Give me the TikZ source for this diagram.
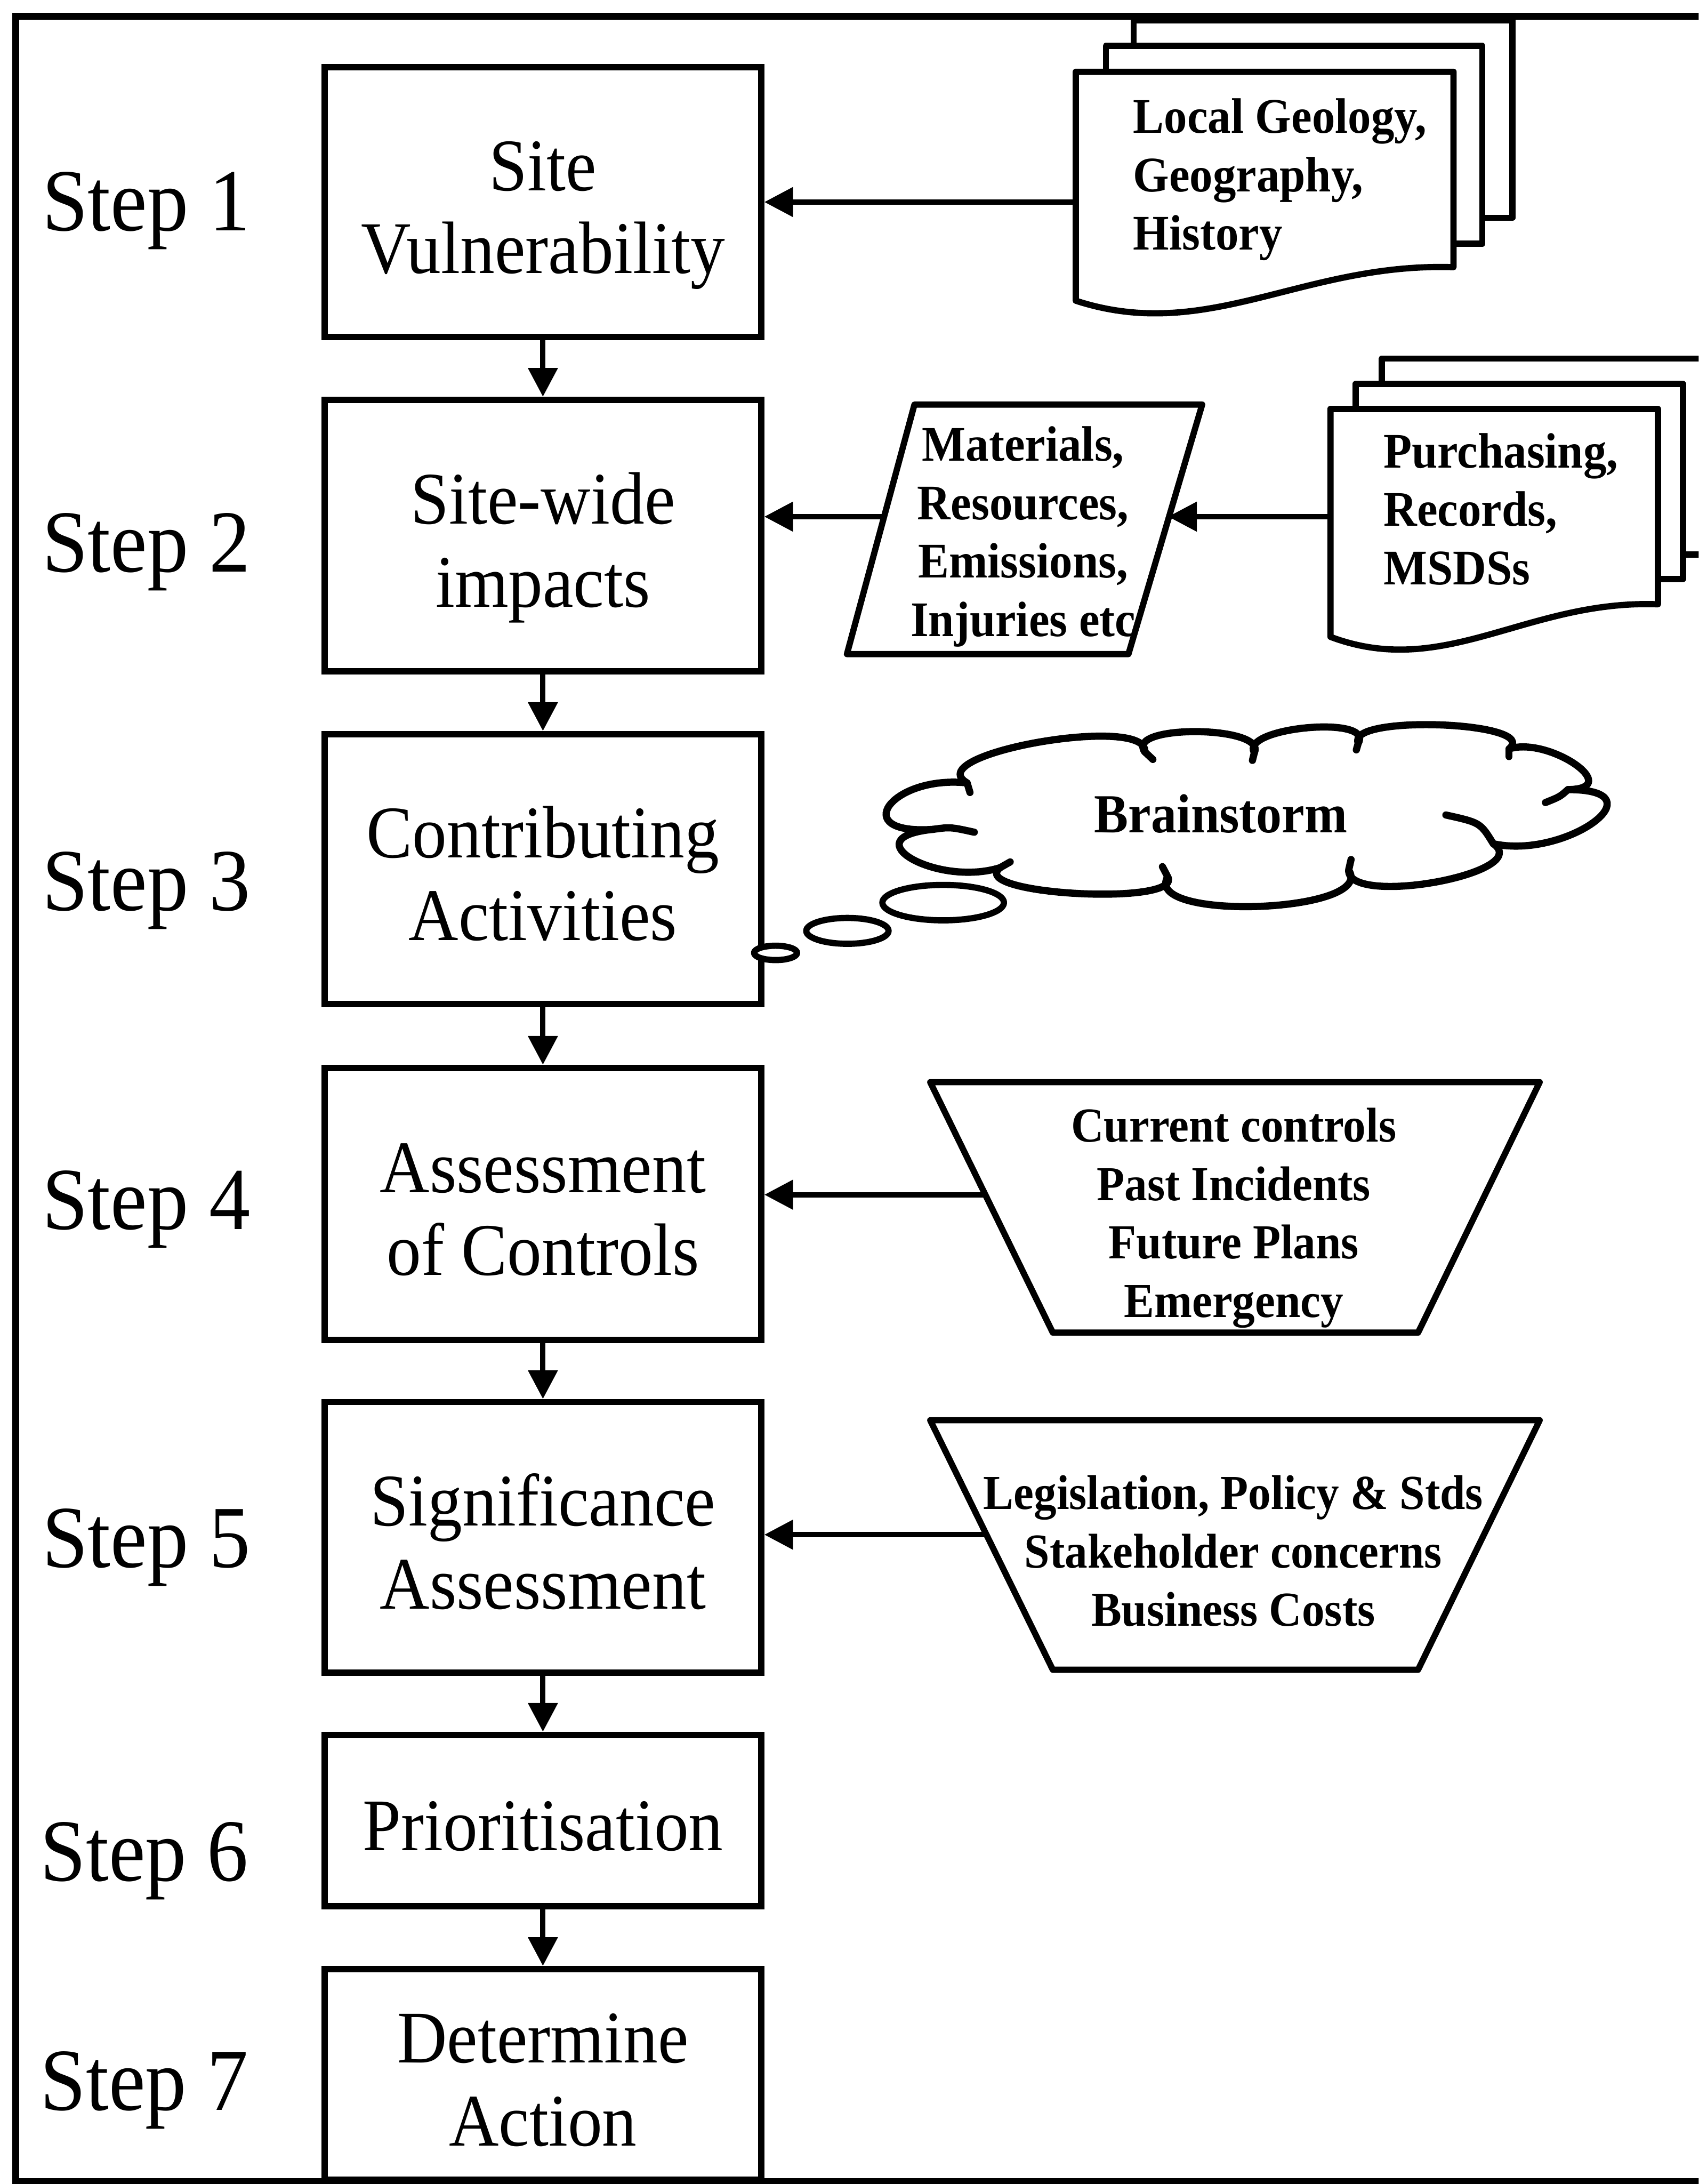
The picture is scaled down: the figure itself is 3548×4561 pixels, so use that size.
\documentclass[tikz,border=0pt]{standalone}
\usepackage{fontspec}
\setmainfont[FakeStretch=0.93]{Liberation Serif}
\usetikzlibrary{arrows.meta,calc}
% struts that fix the vertical placement of multi-line node texts
\newcommand\tstrut{\rule{0pt}{16pt}}
\newcommand\bstrut{\rule[-3.5pt]{0pt}{3.5pt}}
\newcommand\sstrut{\rule{0pt}{10pt}}
\begin{document}
\begin{tikzpicture}[x=0.1pt,y=-0.1pt,
  stepbox/.style={draw, line width=1.3pt, minimum width=91.2pt, inner sep=0pt,
    align=center, font=\fontsize{15.5}{17.3}\selectfont},
  steplabel/.style={anchor=base west, inner sep=0pt, font=\fontsize{18.5}{20}\selectfont},
  flow/.style={line width=1.1pt, -{Triangle[length=6pt,width=6pt]}},
  sidetext/.style={inner sep=0pt, font=\bfseries\fontsize{10.4}{12.2}\selectfont},
  shapeline/.style={line width=1.3pt, fill=white, line join=round},
  lobe/.style={to path={.. controls ($0.4833*(\tikztostart) - 0.8167*(\tikztotarget) + 1.3333*(#1)$)
      and ($0.4833*(\tikztotarget) - 0.8167*(\tikztostart) + 1.3333*(#1)$) .. (\tikztotarget)}}
]
\useasboundingbox (0,0) rectangle (3548,4561);
\fill[white] (0,0) rectangle (3548,4561);
\clip (0,0) rectangle (3548,4561);

% outer frame
\draw[line width=1.4pt] (33,34) rectangle (3660,4556);

% main process boxes
\node[stepbox, minimum height=56.4pt] (b1) at (1134,422)    {\tstrut Site\\Vulnerability\bstrut};
\node[stepbox, minimum height=56.7pt] (b2) at (1134,1118.5) {\tstrut Site-wide\\impacts\bstrut};
\node[stepbox, minimum height=56.4pt] (b3) at (1134,1815)   {\tstrut Contributing\\Activities\bstrut};
\node[stepbox, minimum height=56.8pt] (b4) at (1134,2514)   {\tstrut Assessment\\of Controls\bstrut};
\node[stepbox, minimum height=56.5pt] (b5) at (1134,3210.5) {\tstrut Significance\\Assessment\bstrut};
\node[stepbox, minimum height=35.8pt] (b6) at (1134,3802)   {\tstrut Prioritisation\bstrut};
\node[stepbox, minimum height=44pt]   (b7) at (1134,4332)   {\tstrut Determine\\Action\bstrut};

% step labels
\node[steplabel] (s1) at (86,482)  {Step 1};
\node[steplabel] (s2) at (86,1194) {Step 2};
\node[steplabel] (s3) at (86,1901) {Step 3};
\node[steplabel] (s4) at (86,2567) {Step 4};
\node[steplabel] (s5) at (86,3273) {Step 5};
\node[steplabel] (s6) at (82,3928) {Step 6};
\node[steplabel] (s7) at (82,4407) {Step 7};

% flow between the steps
\draw[flow] (b1.south) -- (b2.north);
\draw[flow] (b2.south) -- (b3.north);
\draw[flow] (b3.south) -- (b4.north);
\draw[flow] (b4.south) -- (b5.north);
\draw[flow] (b5.south) -- (b6.north);
\draw[flow] (b6.south) -- (b7.north);

% document stack: local information
\draw[shapeline] (2368,42) rectangle (3159,455);
\draw[shapeline] (2310,96) rectangle (3096,509);
\draw[shapeline] (2247,150) -- (3036,150) -- (3036,558)
  .. controls (2720,548) and (2523,718) .. (2247,628) -- cycle;
\node[sidetext, anchor=north west, align=left] (geo) at (2365,176)
  {\sstrut Local Geology,\\Geography,\\History};

% document stack: site records
\draw[shapeline] (2886,749) rectangle (3640,1158);
\draw[shapeline] (2832,802) rectangle (3515,1209);
\draw[shapeline] (2779,854) -- (3463,854) -- (3463,1262)
  .. controls (3189,1252) and (3018,1420) .. (2779,1330) -- cycle;
\node[sidetext, anchor=north west, align=left] (rec) at (2888,875)
  {\sstrut Purchasing,\\Records,\\MSDSs};

% data parallelogram
\draw[shapeline] (1910,845) -- (2511,845) -- (2357,1366) -- (1769,1366) -- cycle;
\node[sidetext, anchor=north, align=center] (mat) at (2137,861)
  {\sstrut Materials,\\Resources,\\Emissions,\\Injuries etc};

% thought cloud: cusps (c) and lobe crests (e)
\coordinate (c1) at (2020,1635);
\coordinate (c2) at (2391,1570);
\coordinate (c3) at (2620,1572);
\coordinate (c4) at (2837,1552);
\coordinate (c5) at (3152,1564);
\coordinate (c6) at (3275,1649);
\coordinate (c7) at (3119,1762);
\coordinate (c8) at (2817,1817);
\coordinate (c9) at (2439,1831);
\coordinate (c10) at (2089,1812);
\coordinate (c11) at (1949,1732);
\coordinate (e1) at (2170,1550);
\coordinate (e2) at (2500,1528);
\coordinate (e3) at (2730,1520);
\coordinate (e4) at (3010,1514);
\coordinate (e5) at (3290,1596);
\coordinate (e6) at (3328,1718);
\coordinate (e7) at (3000,1842);
\coordinate (e8) at (2630,1893);
\coordinate (e9) at (2250,1866);
\coordinate (e10) at (1905,1794);
\coordinate (e11) at (1858,1682);
\draw[shapeline, line width=1.5pt] (c1) to[lobe=e1] (c2) to[lobe=e2] (c3) to[lobe=e3] (c4)
  to[lobe=e4] (c5) to[lobe=e5] (c6) to[lobe=e6] (c7) to[lobe=e7] (c8)
  to[lobe=e8] (c9) to[lobe=e9] (c10) to[lobe=e10] (c11) to[lobe=e11] (c1) -- cycle;
\begin{scope}[line width=1.5pt, line cap=round]
  \draw (c11) .. controls (1985,1727) .. (2035,1738);
  \draw (c1) -- (2026,1655);
  \draw (c2) -- (2408,1586);
  \draw (c3) -- (2616,1588);
  \draw (c4) -- (2833,1566);
  \draw (c5) -- (3152,1580);
  \draw (c6) .. controls (3258,1664) .. (3228,1676);
  \draw (c7) .. controls (3092,1718) .. (3020,1702);
  \draw (c8) -- (2822,1795);
  \draw (c9) -- (2428,1810);
  \draw (c10) -- (2110,1800);
\end{scope}
\node[inner sep=0pt, anchor=base, font=\bfseries\fontsize{11.5}{13}\selectfont] (brain)
  at (2550,1739) {Brainstorm};
\draw[shapeline, line width=1.3pt] (1970,1885) ellipse [x radius=12.7pt, y radius=3.7pt];
\draw[shapeline, line width=1.3pt] (1770,1944) ellipse [x radius=8.6pt, y radius=2.7pt];
\draw[shapeline, line width=1.3pt] (1620,1990) ellipse [x radius=4.5pt, y radius=1.5pt];

% inverted trapezium: controls
\draw[shapeline] (1943,2260) -- (3216,2260) -- (2962,2783) -- (2199,2783) -- cycle;
\node[sidetext, anchor=north, align=center, font=\bfseries\fontsize{10.2}{12.2}\selectfont] (ctl)
  at (2577,2283) {\sstrut Current controls\\Past Incidents\\Future Plans\\Emergency};

% inverted trapezium: significance criteria
\draw[shapeline] (1943,2966) -- (3216,2966) -- (2962,3487) -- (2199,3487) -- cycle;
\node[sidetext, anchor=north, align=center, font=\bfseries\fontsize{10.2}{12.2}\selectfont] (sig)
  at (2576,3050) {\sstrut Legislation, Policy \& Stds\\Stakeholder concerns\\Business Costs};

% inputs feeding the steps
\coordinate (d1in) at (2247,422);
\coordinate (d2in) at (2779,1079);
\coordinate (parR) at (2440,1079);
\coordinate (parL) at (1850,1079);
\coordinate (t4in) at (2058,2495);
\coordinate (t5in) at (2060,3205);
\draw[flow] (d1in) -- (b1.east);
\draw[flow] (d2in) -- (parR);
\draw[flow] (parL) -- (parL -| b2.east);
\draw[flow] (t4in) -- (t4in -| b4.east);
\draw[flow] (t5in) -- (t5in -| b5.east);
\end{tikzpicture}
\end{document}
